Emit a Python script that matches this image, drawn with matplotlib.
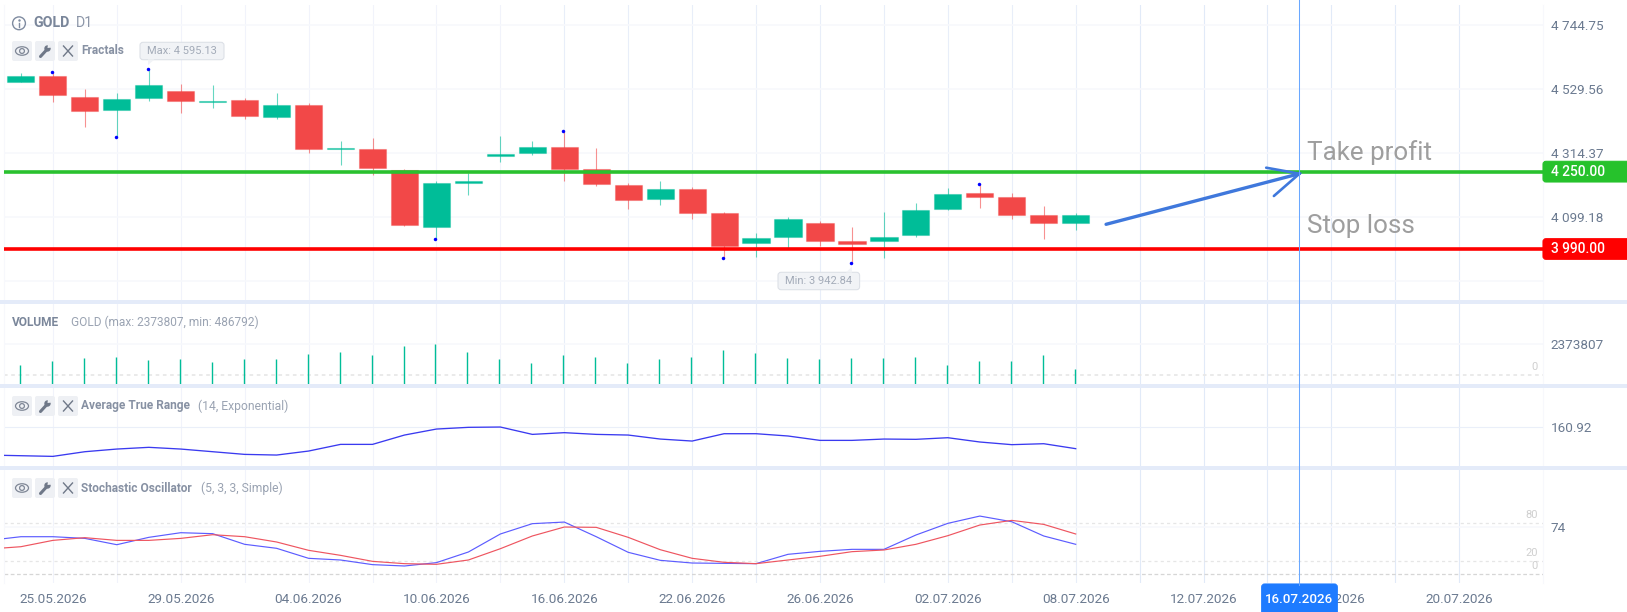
import matplotlib
matplotlib.use("Agg")
import matplotlib.pyplot as plt
from matplotlib.patches import Circle, Ellipse, FancyBboxPatch, Polygon, Rectangle

plt.rcParams["font.family"] = ["Roboto", "DejaVu Sans"]

W, H = 1627, 612

# candles, price values
opens = [4552.8, 4573.0, 4503.4, 4458.5, 4498.9, 4521.4, 4486.6, 4492.2, 4436.1, 4474.2, 4327.2,
         4328.3, 4256.5, 4065.6, 4212.7, 4303.6, 4314.8, 4332.8, 4258.7, 4204.8, 4159.9, 4193.6,
         4111.7, 4009.5, 4031.9, 4076.9, 4018.5, 4016.2, 4038.7, 4126.2, 4180.1, 4164.4, 4106.0, 4076.9]
closes = [4573.0, 4510.1, 4456.3, 4495.6, 4541.6, 4487.7, 4489.9, 4438.3, 4476.5, 4328.3, 4330.5,
          4263.2, 4072.4, 4213.8, 4220.5, 4310.3, 4333.9, 4259.8, 4209.3, 4155.4, 4191.3, 4112.8,
          4001.6, 4027.5, 4091.5, 4018.5, 4007.3, 4031.9, 4121.8, 4175.6, 4164.4, 4106.0, 4076.9, 4106.0]
highs = [4582.0, 4585.4, 4529.2, 4514.6, 4595.13, 4546.1, 4542.7, 4497.8, 4515.8, 4483.2, 4354.1,
         4364.2, 4259.8, 4219.4, 4245.2, 4370.9, 4355.2, 4388.9, 4329.4, 4211.6, 4220.5, 4198.1,
         4115.0, 4045.4, 4098.2, 4083.6, 4064.5, 4115.0, 4145.3, 4195.8, 4208.2, 4180.1, 4135.2, 4111.7]
lows = [4552.8, 4486.6, 4402.4, 4368.7, 4489.9, 4449.5, 4466.4, 4429.3, 4428.2, 4314.8, 4273.3,
        4240.7, 4067.9, 4025.2, 4172.3, 4283.4, 4308.1, 4219.4, 4202.6, 4125.1, 4138.6, 4092.6,
        3959.0, 3964.6, 3993.8, 4000.5, 3942.84, 3961.2, 4031.9, 4121.8, 4128.5, 4092.6, 4024.1, 4054.4]

fractal_up = [1, 4, 17, 30]
fractal_down = [3, 13, 22, 26]

volume = [765750, 1072050, 1301775, 1403875, 1148625, 1225200, 995475, 1225200, 1250725, 1608075,
          1761225, 1557025, 2220675, 2373807, 1761225, 1225200, 944425, 1531500, 1403875, 918900,
          1225200, 1378350, 1888850, 1684650, 1301775, 1225200, 1276250, 1276250, 1378350, 765750,
          1072050, 1072050, 1557025, 486792]

# these start one bar before the first candle, the left edge cuts them
atr = [131.5, 130.8, 130.1, 135.0, 137.8, 139.6, 137.8, 135.0, 132.2, 131.5, 135.7, 142.7, 142.7,
       152.5, 158.8, 160.6, 160.92, 153.2, 155.0, 153.2, 152.5, 148.3, 146.2, 153.9, 153.9, 151.5,
       146.9, 146.9, 148.3, 148.0, 149.7, 145.2, 142.4, 143.4, 138.2]
stoch_k = [52.6, 58.3, 58.3, 55.7, 45.9, 57.3, 64.5, 63.0, 46.5, 40.3, 24.8, 22.2, 15.0, 12.9, 18.1,
           34.6, 62.5, 78.5, 81.0, 58.3, 34.1, 21.7, 17.5, 17.0, 16.5, 31.0, 35.6, 38.7, 38.7, 60.9,
           79.0, 90.3, 81.5, 59.4, 46.5]
stoch_d = [39.2, 42.8, 52.6, 56.8, 52.6, 52.6, 55.7, 61.4, 58.3, 50.1, 37.2, 29.4, 20.1, 16.5, 15.5,
           22.2, 39.7, 59.4, 73.3, 72.8, 57.3, 38.2, 24.8, 18.6, 16.5, 22.2, 27.9, 35.1, 37.7, 46.5,
           59.9, 76.4, 83.6, 77.4, 62.5]

price_ticks = [4744.75, 4529.56, 4314.37, 4099.18, 3883.99]
price_labels = ["4 744.75", "4 529.56", "4 314.37", "4 099.18", ""]
take_profit = 4250.00
stop_loss = 3990.00

grid_idx = list(range(1, 46, 2))
date_idx = [1, 5, 9, 13, 17, 21, 25, 29, 33, 37, 41, 45]
date_labels = ["25.05.2026", "29.05.2026", "04.06.2026", "10.06.2026", "16.06.2026", "22.06.2026",
               "26.06.2026", "02.07.2026", "08.07.2026", "12.07.2026", "16.07.2026", "20.07.2026"]
cursor_idx = 40

arrow_x = [33.95, 40.0]
arrow_y = [4073.6, 4244.0]
barb_x = [38.96, 40.0, 39.2]
barb_y = [4264.2, 4244.0, 4168.9]

GREEN = "#00BD98"
RED = "#F24848"
TXT = "#6B7A90"
FAINT = "#F7F8FC"
XLIM = (-0.529, 47.62)

fig = plt.figure(figsize=(W / 100, H / 100), dpi=100, facecolor="white")


def grid_color(idx):
    # the vertical lines are almost gone on the left and firmer on the right
    if idx <= 15:
        return "#F1F3FB"
    if idx <= 33:
        return "#E8EEF9"
    return "#E1EAF8"


def pane(y0, y1, ylim):
    ax = fig.add_axes([4 / W, 1 - y1 / H, (1543 - 4) / W, (y1 - y0) / H])
    ax.set_xlim(*XLIM)
    ax.set_ylim(*ylim)
    for s in ax.spines.values():
        s.set_visible(False)
    ax.spines["left"].set_visible(True)
    ax.spines["right"].set_visible(True)
    ax.spines["left"].set_color(FAINT)
    ax.spines["right"].set_color(FAINT)
    ax.set_xticks(grid_idx)
    ax.set_xticklabels([])
    ax.grid(axis="x", lw=0.8)
    for idx, line in zip(grid_idx, ax.get_xgridlines()):
        line.set_color(grid_color(idx))
    ax.set_axisbelow(True)
    ax.yaxis.tick_right()
    ax.tick_params(length=0, labelsize=9.7, labelcolor=TXT, pad=5.6)
    ax.set_yticks([])
    return ax


# main pane
ax = pane(5.3, 300, (3818.7, 4811.1))
ax.set_yticks(price_ticks)
ax.set_yticklabels(price_labels)
ax.grid(axis="y", color=FAINT, lw=1.2)
for i in range(len(opens)):
    c = GREEN if closes[i] >= opens[i] else RED
    ax.vlines(i, lows[i], highs[i], color=c, lw=0.8, alpha=0.6, zorder=2)
    ax.bar(i, abs(closes[i] - opens[i]), bottom=min(opens[i], closes[i]), width=0.85, color=c,
           edgecolor=(matplotlib.colors.to_rgb(c) + (0.35,)), lw=0.8, zorder=3)
ax.plot([i - 0.03 for i in fractal_up], [highs[i] for i in fractal_up], "o", color="#0000FF", ms=2.5, mew=0, zorder=4)
ax.plot([i - 0.03 for i in fractal_down], [lows[i] for i in fractal_down], "o", color="#0000FF", ms=2.5, mew=0, zorder=4)
ax.axhline(take_profit, color="#2AC12F", lw=2.6, zorder=5)
ax.axhline(stop_loss, color="#FF0000", lw=2.6, zorder=5)
ax.plot(arrow_x, arrow_y, color="#3F78DC", lw=2.4, solid_capstyle="round", zorder=6)
ax.plot(barb_x, barb_y, color="#3F78DC", lw=1.9, solid_capstyle="round", solid_joinstyle="miter", zorder=6)

# volume, bars run past the zero line down to the pane edge
ax_v = pane(304, 384, (-2373807 * 9 / 31, 2373807 * 71 / 31))
ax_v.set_yticks([2373807])
ax_v.set_yticklabels(["2373807"])
ax_v.grid(axis="y", color=FAINT, lw=1.2)
ax_v.vlines([i - 0.03 for i in range(len(volume))], ax_v.get_ylim()[0], volume, color=GREEN, lw=1.0, zorder=3)
ax_v.axhline(0, color="#E8E8E8", lw=1.3, ls=(0, (2, 2)))

# ATR
ax_a = pane(388, 466, (120.0, 201.9))
ax_a.set_yticks([160.92])
ax_a.set_yticklabels(["160.92"])
ax_a.grid(axis="y", color="#EAEFF9", lw=0.8)
ax_a.plot(range(-1, 34), atr, color="#3A3AF0", lw=0.95, zorder=3)

# stochastic
ax_s = pane(470, 582.7, (-13.0, 161.7))
ax_s.set_yticks([74])
ax_s.set_yticklabels(["74"])
ax_s.grid(axis="y", color=FAINT, lw=1.2)
ax_s.axhline(80, color="#E6E6E6", lw=0.9, ls=(0, (2.5, 2.5)))
ax_s.axhline(20, color="#E6E6E6", lw=0.9, ls=(0, (2.5, 2.5)))
ax_s.axhline(0, color="#D6D6D6", lw=0.9, ls=(0, (3, 2)))
ax_s.plot(range(-1, 34), stoch_k, color="#5C5CFF", lw=0.85, zorder=3)
ax_s.plot(range(-1, 34), stoch_d, color="#EE5560", lw=0.85, zorder=4)
labels = dict(zip(date_idx, date_labels))
ax_s.set_xticklabels([labels.get(i, "") for i in grid_idx])
ax_s.tick_params(axis="x", pad=7.5)

# everything that sits on top is placed in pixels on a full size overlay
ov = fig.add_axes([0, 0, 1, 1], zorder=10)
ov.set_xlim(0, W)
ov.set_ylim(H, 0)
ov.axis("off")
ov.patch.set_alpha(0)

for y in (300, 384, 466):
    ov.add_patch(Rectangle((0, y), W, 4, color="#E4EBF9", lw=0))

cursor_px = 20.9 + cursor_idx * 31.96
ov.plot([cursor_px, cursor_px], [0, 585], color="#6AA8FF", lw=0.75)


def badge(x0, y0, x1, y1, color, text, tx, ha="left", edge=None, tc="white", size=9.9, weight="medium"):
    ov.add_patch(FancyBboxPatch((x0 + 3, y0 + 3), x1 - x0 - 6, y1 - y0 - 6, boxstyle="round,pad=3",
                                fc=color, ec=edge or color, lw=0.8))
    ov.text(tx, (y0 + y1) / 2, text, color=tc, ha=ha, va="center", fontsize=size, fontweight=weight)


badge(1543, 161.3, 1632, 182, "#26C22C", "4 250.00", 1551)
badge(1543, 238.7, 1632, 259.3, "#FF0000", "3 990.00", 1551)
badge(1261.7, 584, 1337.3, 615, "#1E7BFF", "16.07.2026", cursor_px, ha="center", size=9.6)

badge(140, 42.3, 224, 59.7, "#F1F3F6", "Max: 4 595.13", 182, ha="center", edge="#DDE1E7", tc="#A3ABB8", size=8, weight="normal")
ov.add_patch(Polygon([(148, 59.4), (148, 65), (154.5, 59.4)], fc="#F1F3F6", ec="none"))
badge(778, 272.3, 859.6, 289.7, "#F1F3F6", "Min: 3 942.84", 818.6, ha="center", edge="#DDE1E7", tc="#A3ABB8", size=8, weight="normal")
ov.add_patch(Polygon([(846, 272.6), (851.8, 266.7), (852, 272.6)], fc="#F1F3F6", ec="none"))

ov.text(1307, 152.5, "Take profit", color="#9E9E9E", fontsize=18.7, va="center")
ov.text(1307, 226.5, "Stop loss", color="#9E9E9E", fontsize=18.7, va="center")

# header
ov.add_patch(Circle((19, 23.3), 6.4, fc="none", ec="#7F8BA0", lw=1))
ov.plot([19, 19], [22.5, 26.5], color="#7F8BA0", lw=1)
ov.plot([19], [20], ".", color="#7F8BA0", ms=1.5)
ov.text(33.5, 23.3, "GOLD", color="#7A869A", fontsize=10.2, fontweight="bold", va="center")
ov.text(76, 23.3, "D1", color="#8C96A8", fontsize=10.2, va="center")


def toolbar(cy, title, args=None, args_x=0):
    for x0 in (12, 35, 58):
        ov.add_patch(FancyBboxPatch((x0 + 2, cy - 8), 16, 16, boxstyle="round,pad=2", fc="#EEF0F4", ec="none"))
    # eye
    ov.add_patch(Ellipse((22, cy), 13, 8.5, fc="none", ec="#7F8796", lw=0.9))
    ov.add_patch(Circle((22, cy), 2.4, fc="none", ec="#7F8796", lw=0.9))
    # wrench
    ov.plot([40.5, 46], [cy + 5.5, cy - 0.5], color="#6F7888", lw=2.2, solid_capstyle="round")
    ov.add_patch(Circle((47.5, cy - 2.5), 3.2, fc="#6F7888", ec="none"))
    ov.add_patch(Polygon([(47.5, cy - 3), (48, cy - 7), (52, cy - 3.5)], fc="#EEF0F4", ec="none"))
    # close
    ov.plot([63.5, 72.5], [cy - 5, cy + 5], color="#6F7888", lw=1)
    ov.plot([63.5, 72.5], [cy + 5, cy - 5], color="#6F7888", lw=1)
    ov.text(81, cy, title, color="#8791A3", fontsize=8.55, fontweight="bold", va="center")
    if args:
        ov.text(args_x, cy, args, color="#9AA3B2", fontsize=8.7, va="center")


toolbar(51, "Fractals")
toolbar(406, "Average True Range", "(14, Exponential)", 198)
toolbar(488, "Stochastic Oscillator", "(5, 3, 3, Simple)", 201)

ov.text(12, 322, "VOLUME", color="#7A869A", fontsize=8.55, fontweight="bold", va="center")
ov.text(71, 322, "GOLD (max: 2373807, min: 486792)", color="#9AA3B2", fontsize=8.6, va="center")

for x, y, s in [(1534.6, 367, "0"), (1532, 515, "80"), (1532, 553, "20"), (1534.6, 566, "0")]:
    ov.text(x, y, s, color="#CFCFCF", fontsize=8, ha="center", va="center")

fig.savefig("out.png", dpi=100)
